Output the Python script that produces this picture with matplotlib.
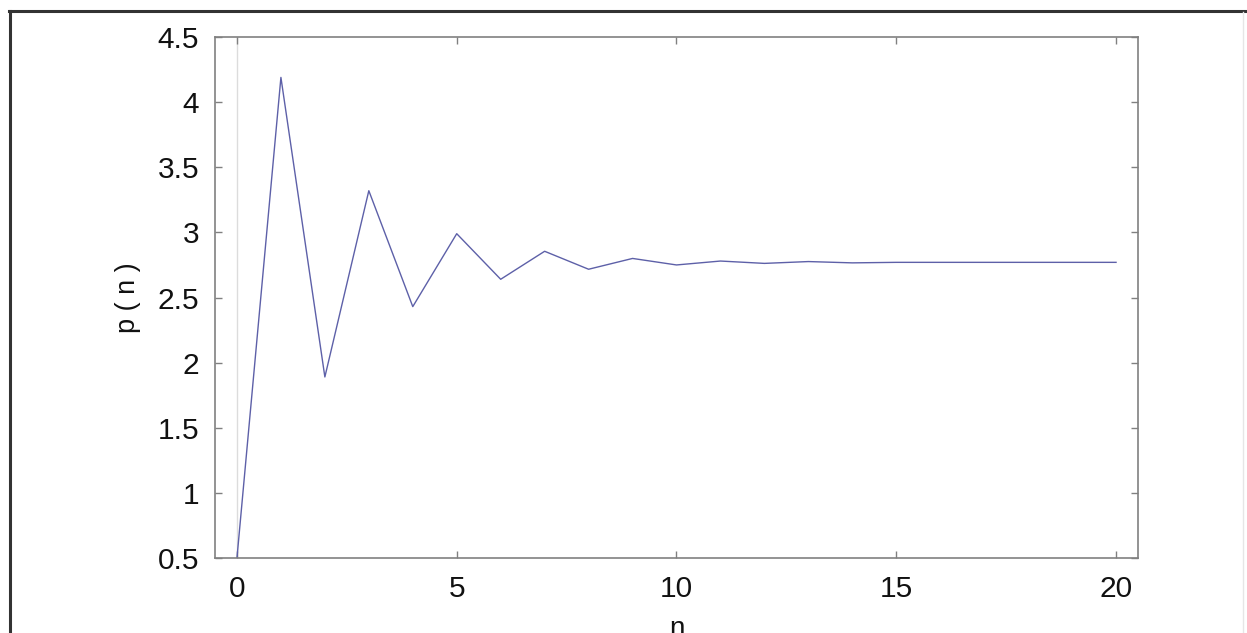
import matplotlib.pyplot as plt
from matplotlib.lines import Line2D
from matplotlib.ticker import FormatStrFormatter

# sequence values
n = list(range(21))
p = [0.5, 4.19, 1.89, 3.32, 2.43, 2.99, 2.64, 2.855, 2.717, 2.80, 2.75,
     2.78, 2.762, 2.776, 2.766, 2.77, 2.77, 2.77, 2.77, 2.77, 2.77]
xticks = [0, 5, 10, 15, 20]
yticks = [0.5, 1, 1.5, 2, 2.5, 3, 3.5, 4, 4.5]

plt.rcParams['font.family'] = ['Liberation Sans', 'DejaVu Sans']

fig = plt.figure(figsize=(12.47, 6.33), dpi=100)
ax = fig.add_axes([0.1724, 0.1185, 0.7402, 0.823])

# faint zero line
ax.axvline(0, color='#dcdcdc', lw=1, zorder=0)
ax.plot(n, p, color='#5d60a8', lw=1)

ax.set_xlim(-0.5, 20.5)
ax.set_ylim(0.5, 4.5)
ax.set_xticks(xticks)
ax.set_yticks(yticks)
ax.yaxis.set_major_formatter(FormatStrFormatter('%g'))

for s in ax.spines.values():
    s.set_color('#808080')
    s.set_linewidth(1.2)
ax.tick_params(direction='in', length=5, width=1, color='#808080',
               top=True, right=True, labelsize=21.5, labelcolor='#111111')
ax.tick_params(axis='x', pad=12.5)
ax.tick_params(axis='y', pad=11.5)

ax.set_ylabel('p ( n )', fontsize=19.5, labelpad=12, color='#111111')
ax.set_xlabel('n', fontsize=20, labelpad=9, color='#111111')

# outer frame of the original figure (bottom is cut off)
fig.add_artist(Line2D([9 / 1247, 1247 / 1247], [1 - 11 / 633, 1 - 11 / 633],
                      transform=fig.transFigure, color='#333333', lw=2.2))
fig.add_artist(Line2D([10 / 1247, 10 / 1247], [0, 1 - 11 / 633],
                      transform=fig.transFigure, color='#333333', lw=2.2))
fig.add_artist(Line2D([1243 / 1247, 1243 / 1247], [0, 1 - 12 / 633],
                      transform=fig.transFigure, color='#e6e6e6', lw=1))

fig.savefig('out.png', dpi=100)
